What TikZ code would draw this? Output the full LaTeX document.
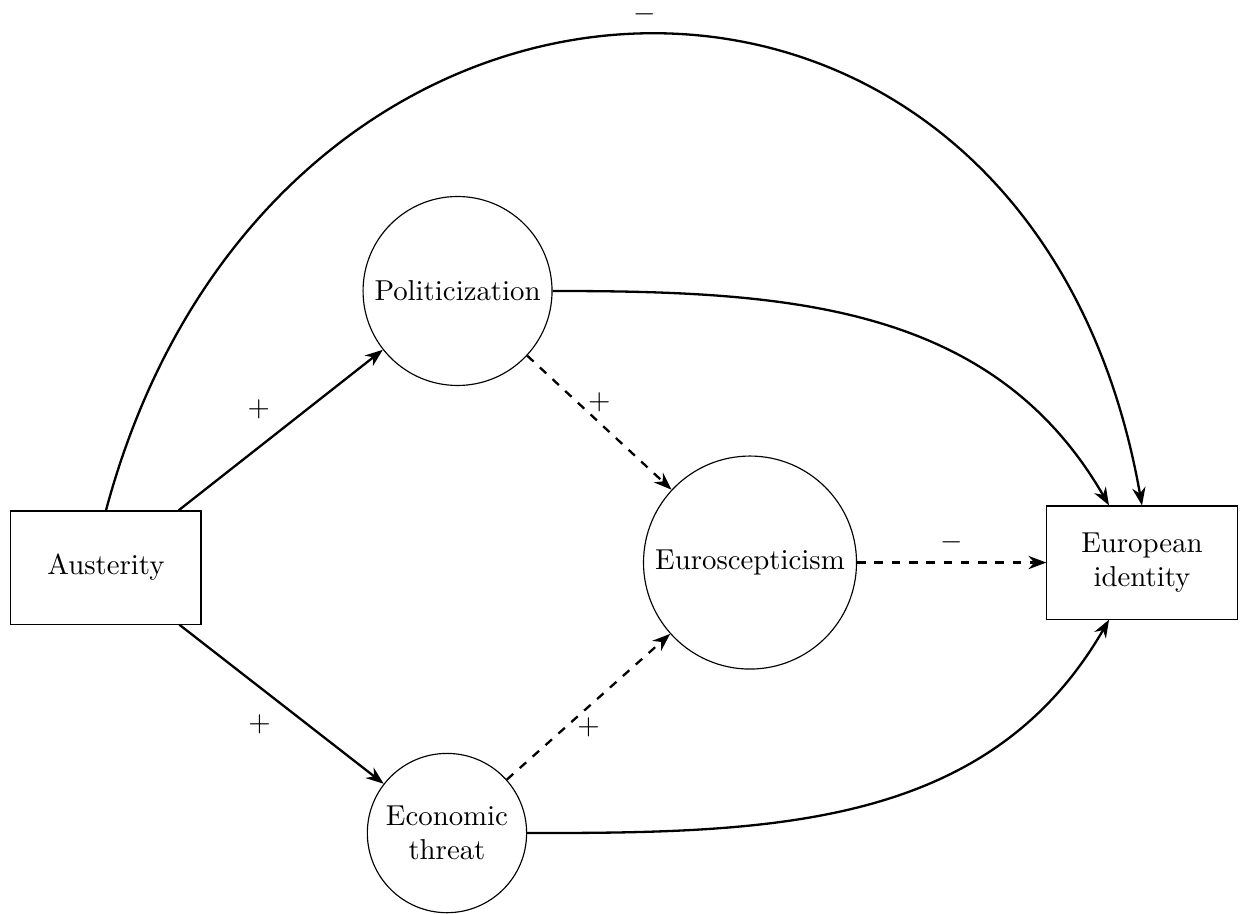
\documentclass[tikz,border=0pt]{standalone}
\usetikzlibrary{arrows.meta}

\tikzstyle{factor}=[shape=rectangle,draw,minimum width=2.32cm,minimum height=1.38cm,align=center]
\tikzstyle{channel}=[shape=circle,draw,align=center]
\tikzstyle{effect}=[->,thick]
\tikzstyle{weakeffect}=[effect,dashed]

\begin{document}
\begin{tikzpicture}[>={Stealth[length=6.2pt,width=4.6pt,inset=2pt]}]
\useasboundingbox (0,0) rectangle (15.152,-11.139);
% cause
\node[factor] (aust) at (1.293,-6.924) {Austerity};
% mediators
\node[channel] (pol) at (5.582,-3.550) {Politicization};
\node[channel] (econ) at (5.453,-10.163) {Economic\\threat};
\node[channel] (esc) at (9.150,-6.863) {Euroscepticism};
% outcome
\node[factor] (eid) at (13.932,-6.863) {European\\identity};
% direct paths
\path (aust) edge[effect] node[above left] {$+$} (pol)
             edge[effect] node[below left] {$+$} (econ);
\draw[effect] (aust.north) to[out=75,in=100,looseness=1.595] node[above] {$-$} (eid.north);
\path (pol) edge[effect,out=0,in=120] (eid);
\path (econ) edge[effect,out=0,in=-120] (eid);
% paths through euroscepticism
\path (pol) edge[weakeffect] node[above] {$+$} (esc);
\path (econ) edge[weakeffect] node[below] {$+$} (esc);
\path (esc) edge[weakeffect] node[above] {$-$} (eid);
\end{tikzpicture}
\end{document}
